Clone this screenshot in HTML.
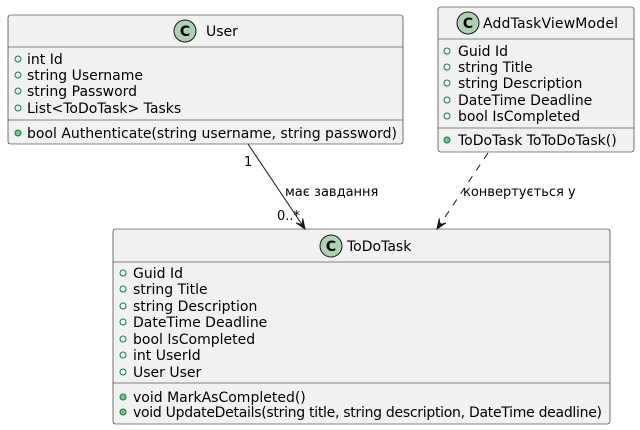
<!DOCTYPE html>
<html><head><meta charset="utf-8"><style>
html,body{margin:0;padding:0;background:#fff;}
svg{display:block;}
text{font-family:"DejaVu Sans","Liberation Sans",sans-serif;font-size:14px;fill:#000;}
.box{fill:#F1F1F1;stroke:#181818;stroke-width:0.6;}
.ln{stroke:#181818;stroke-width:0.6;}
.fo{fill:none;stroke:#038048;stroke-width:1;}
.mf{fill:#84BE84;stroke:#038048;stroke-width:1;}
.ci{fill:#ADD1B2;stroke:#181818;stroke-width:1;}
.c{font-weight:bold;font-size:14px;}
.lb{font-size:13px;}
</style></head><body>
<svg width="640" height="430" viewBox="0 0 640 430" xmlns="http://www.w3.org/2000/svg">
<!-- User -->
<rect class="box" x="8" y="15" width="395" height="129" rx="2.5"/>
<line class="ln" x1="8" y1="47" x2="403" y2="47"/>
<line class="ln" x1="8" y1="120" x2="403" y2="120"/>
<circle class="ci" cx="185" cy="31" r="11"/>
<text class="c" x="185" y="36" text-anchor="middle">C</text>
<text x="206" y="36">User</text>
<circle class="fo" cx="18" cy="59" r="3"/><text x="27" y="64">int Id</text>
<circle class="fo" cx="18" cy="75" r="3"/><text x="27" y="80">string Username</text>
<circle class="fo" cx="18" cy="91" r="3"/><text x="27" y="96">string Password</text>
<circle class="fo" cx="18" cy="108" r="3"/><text x="27" y="113">List&lt;ToDoTask&gt; Tasks</text>
<circle class="mf" cx="18" cy="133" r="3"/><text x="27" y="138" textLength="370">bool Authenticate(string username, string password)</text>

<!-- AddTaskViewModel -->
<rect class="box" x="438" y="7" width="196" height="145" rx="2.5"/>
<line class="ln" x1="438" y1="39" x2="634" y2="39"/>
<line class="ln" x1="438" y1="128" x2="634" y2="128"/>
<circle class="ci" cx="468" cy="23" r="11"/>
<text class="c" x="468" y="28" text-anchor="middle">C</text>
<text x="483" y="28" textLength="135">AddTaskViewModel</text>
<circle class="fo" cx="447" cy="51" r="3"/><text x="458" y="56">Guid Id</text>
<circle class="fo" cx="447" cy="67" r="3"/><text x="458" y="72">string Title</text>
<circle class="fo" cx="447" cy="83" r="3"/><text x="458" y="88">string Description</text>
<circle class="fo" cx="447" cy="100" r="3"/><text x="458" y="105">DateTime Deadline</text>
<circle class="fo" cx="447" cy="116" r="3"/><text x="458" y="121">bool IsCompleted</text>
<circle class="mf" cx="447" cy="140" r="3"/><text x="458" y="145">ToDoTask ToToDoTask()</text>

<!-- ToDoTask -->
<rect class="box" x="113" y="229" width="497" height="195" rx="2.5"/>
<line class="ln" x1="113" y1="262" x2="610" y2="262"/>
<line class="ln" x1="113" y1="383" x2="610" y2="383"/>
<circle class="ci" cx="331" cy="246" r="11"/>
<text class="c" x="331" y="251" text-anchor="middle">C</text>
<text x="347" y="251">ToDoTask</text>
<circle class="fo" cx="123" cy="273" r="3"/><text x="133" y="278">Guid Id</text>
<circle class="fo" cx="123" cy="289" r="3"/><text x="133" y="294">string Title</text>
<circle class="fo" cx="123" cy="306" r="3"/><text x="133" y="311">string Description</text>
<circle class="fo" cx="123" cy="322" r="3"/><text x="133" y="327">DateTime Deadline</text>
<circle class="fo" cx="123" cy="339" r="3"/><text x="133" y="344">bool IsCompleted</text>
<circle class="fo" cx="123" cy="355" r="3"/><text x="133" y="360">int UserId</text>
<circle class="fo" cx="123" cy="372" r="3"/><text x="133" y="377">User User</text>
<circle class="mf" cx="123" cy="397" r="3"/><text x="133" y="402">void MarkAsCompleted()</text>
<circle class="mf" cx="123" cy="412" r="3"/><text x="133" y="417" textLength="469">void UpdateDetails(string title, string description, DateTime deadline)</text>

<!-- solid association -->
<line x1="248" y1="144" x2="303" y2="226" stroke="#181818" stroke-width="1"/>
<polygon points="305,229 296.1,222.9 302.2,224.8 302.7,218.5" fill="#181818" stroke="#181818" stroke-width="1"/>
<text class="lb" x="244" y="166">1</text>
<text class="lb" x="277" y="220">0..*</text>
<text class="lb" x="285" y="196">має завдання</text>

<!-- dashed dependency -->
<line x1="488" y1="153" x2="439" y2="226" stroke="#181818" stroke-width="1" stroke-dasharray="7,7"/>
<polygon points="437,229 439.3,218.5 439.8,224.8 445.9,222.9" fill="#181818" stroke="#181818" stroke-width="1"/>
<text class="lb" x="463" y="196">конвертується у</text>
</svg>
</body></html>
